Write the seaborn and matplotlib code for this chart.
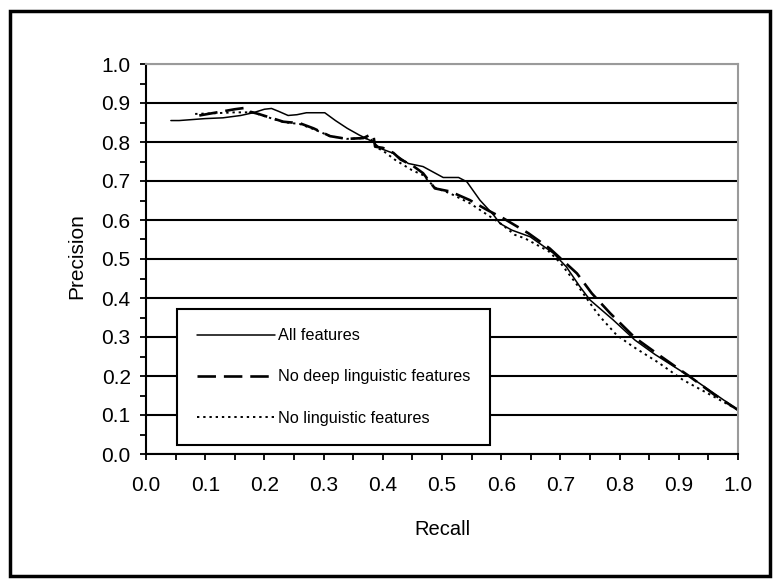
import matplotlib
matplotlib.use("Agg")
import matplotlib.pyplot as plt
from matplotlib.patches import Rectangle
from matplotlib.ticker import MultipleLocator
import seaborn as sns
import pandas as pd

all_recall = [0.042, 0.056, 0.10, 0.13, 0.16, 0.181, 0.200, 0.212, 0.225, 0.240, 0.255,
              0.271, 0.302, 0.32, 0.34, 0.36, 0.384, 0.395, 0.418, 0.443, 0.468, 0.502,
              0.528, 0.542, 0.564, 0.587, 0.598, 0.618, 0.649, 0.688, 0.710, 0.733,
              0.750, 0.789, 0.826, 0.86, 0.919, 0.96, 1.0]
all_prec = [0.855, 0.855, 0.860, 0.862, 0.868, 0.875, 0.884, 0.886, 0.878, 0.868, 0.870,
            0.875, 0.875, 0.855, 0.835, 0.818, 0.800, 0.784, 0.771, 0.745, 0.737, 0.709,
            0.709, 0.698, 0.651, 0.613, 0.591, 0.574, 0.557, 0.515, 0.480, 0.429,
            0.395, 0.344, 0.292, 0.255, 0.198, 0.155, 0.113]

nodeep_recall = [0.09, 0.12, 0.15, 0.17, 0.175, 0.19, 0.209, 0.232, 0.26, 0.283, 0.311,
                 0.339, 0.367, 0.378, 0.384, 0.387, 0.40, 0.418, 0.43, 0.45, 0.468,
                 0.488, 0.514, 0.547, 0.576, 0.604, 0.646, 0.682, 0.728, 0.753, 0.784,
                 0.826, 0.87, 0.919, 0.96, 1.0]
nodeep_prec = [0.868, 0.876, 0.884, 0.888, 0.878, 0.872, 0.863, 0.852, 0.848, 0.835, 0.815,
               0.808, 0.810, 0.818, 0.818, 0.788, 0.785, 0.772, 0.755, 0.740, 0.720,
               0.681, 0.673, 0.651, 0.626, 0.604, 0.566, 0.527, 0.463, 0.412, 0.361,
               0.298, 0.250, 0.198, 0.152, 0.113]

noling_recall = [0.083, 0.12, 0.15, 0.18, 0.209, 0.232, 0.26, 0.283, 0.311, 0.339, 0.367,
                 0.38, 0.39, 0.40, 0.42, 0.449, 0.468, 0.488, 0.514, 0.547, 0.573, 0.60,
                 0.623, 0.64, 0.68, 0.70, 0.73, 0.756, 0.767, 0.795, 0.823, 0.865, 0.907,
                 0.964, 1.0]
noling_prec = [0.872, 0.874, 0.876, 0.876, 0.862, 0.851, 0.846, 0.833, 0.815, 0.808, 0.810,
               0.808, 0.785, 0.778, 0.755, 0.728, 0.715, 0.683, 0.668, 0.643, 0.617, 0.590,
               0.562, 0.553, 0.520, 0.490, 0.430, 0.374, 0.352, 0.305, 0.275, 0.235, 0.190,
               0.143, 0.113]

labels = ["All features", "No deep linguistic features", "No linguistic features"]
ticks = [0.0, 0.1, 0.2, 0.3, 0.4, 0.5, 0.6, 0.7, 0.8, 0.9, 1.0]
tick_labels = ["0.0", "0.1", "0.2", "0.3", "0.4", "0.5", "0.6", "0.7", "0.8", "0.9", "1.0"]

sns.set_theme(style="white")
plt.rcParams['font.family'] = ['Liberation Sans', 'DejaVu Sans']

fig = plt.figure(figsize=(7.79, 5.84), dpi=100)
ax = fig.add_axes([146 / 779, 1 - 454 / 584, 592 / 779, 390 / 584])

df_all = pd.DataFrame({"Recall": all_recall, "Precision": all_prec})
df_nodeep = pd.DataFrame({"Recall": nodeep_recall, "Precision": nodeep_prec})
df_noling = pd.DataFrame({"Recall": noling_recall, "Precision": noling_prec})

sns.lineplot(data=df_all, x="Recall", y="Precision", ax=ax, color="black",
             linewidth=1.1, sort=False, estimator=None, label=labels[0])
sns.lineplot(data=df_nodeep, x="Recall", y="Precision", ax=ax, color="black",
             linewidth=1.9, sort=False, estimator=None, label=labels[1])
sns.lineplot(data=df_noling, x="Recall", y="Precision", ax=ax, color="black",
             linewidth=1.4, sort=False, estimator=None, label=labels[2])
ax.lines[1].set_dashes((7, 3))
ax.lines[2].set_dashes((1.2, 2.0))

ax.set_xlim(0, 1)
ax.set_ylim(0, 1)
ax.set_xticks(ticks)
ax.set_xticklabels(tick_labels)
ax.set_yticks(ticks)
ax.set_yticklabels(tick_labels)
ax.xaxis.set_minor_locator(MultipleLocator(0.05))
ax.yaxis.set_minor_locator(MultipleLocator(0.05))
ax.tick_params(axis="both", which="both", direction="out", length=4, width=1.3,
               color="black", labelsize=15, labelcolor="black",
               bottom=True, left=True)
ax.tick_params(axis="x", which="major", pad=12)
ax.tick_params(axis="y", which="major", pad=7)

ax.grid(axis="y", color="black", linewidth=1.5)
ax.grid(axis="x", visible=False)
ax.get_ygridlines()[-1].set_color("#9a9a9a")

for side in ["left", "bottom"]:
    ax.spines[side].set_color("black")
    ax.spines[side].set_linewidth(1.5)
for side in ["top", "right"]:
    ax.spines[side].set_color("#9a9a9a")
    ax.spines[side].set_linewidth(1.5)

ax.set_xlabel("Recall", fontsize=14.5, color="black")
ax.set_ylabel("Precision", fontsize=15, color="black")
ax.xaxis.set_label_coords(0.5, (454 - 535) / 390)
ax.xaxis.label.set_va("baseline")
ax.yaxis.set_label_coords((82 - 146) / 592, 0.508)
ax.yaxis.label.set_va("baseline")

leg = ax.legend(loc="upper left", bbox_to_anchor=(31 / 592, 145 / 390),
                borderaxespad=0, fontsize=11.7, frameon=True, fancybox=False,
                edgecolor="black", framealpha=1, handlelength=4.8,
                handletextpad=0.2, labelspacing=1.6, borderpad=1.2)
leg.get_frame().set_linewidth(1.5)
for t in leg.get_texts():
    t.set_color("black")

fig.patches.append(Rectangle((10 / 779, 1 - 576 / 584), 760 / 779, 565 / 584,
                             transform=fig.transFigure, fill=False,
                             edgecolor="black", linewidth=2.5))

fig.savefig("out.png", dpi=100)
